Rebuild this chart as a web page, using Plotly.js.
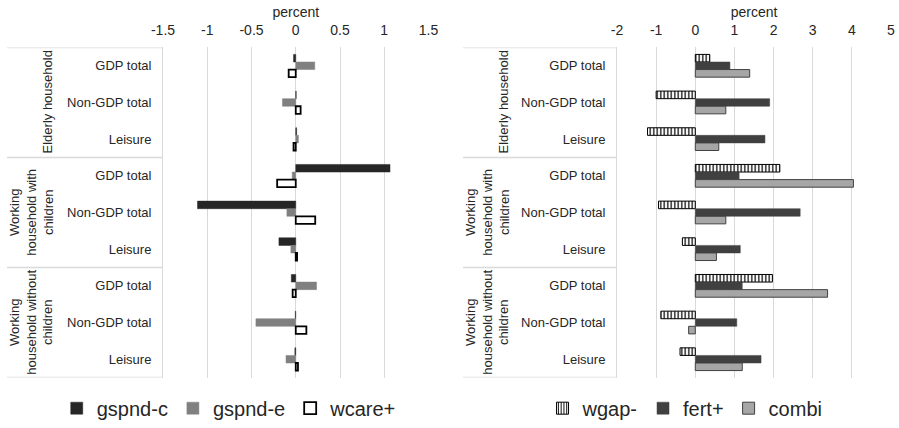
<!DOCTYPE html>
<html>
<head>
<meta charset="utf-8">
<script src="https://cdn.plot.ly/plotly-3.0.1.min.js"></script>
<style>html,body{margin:0;padding:0;background:#fff}#chart{width:899px;height:428px}</style>
</head>
<body>
<div id="chart"></div>
<script>
// ---- data ----
const groups = ['Elderly household', 'Working<br>household with<br>children', 'Working<br>household without<br>children'];
const subcats = ['GDP total', 'Non-GDP total', 'Leisure'];

// left panel (percent)
const gspnd_c = [-0.025, 0.005, 0.01, 1.065, -1.11, -0.19, -0.05, -0.005, -0.01];
const gspnd_e = [0.215, -0.15, 0.03, -0.04, -0.10, -0.055, 0.235, -0.45, -0.11];
const wcare   = [-0.08, 0.055, -0.025, -0.21, 0.22, 0.015, -0.035, 0.12, 0.025];

// right panel (percent)
const wgap  = [0.37, -1.0, -1.22, 2.16, -0.94, -0.33, 1.97, -0.88, -0.39];
const fert  = [0.885, 1.9, 1.78, 1.12, 2.68, 1.15, 1.2, 1.06, 1.68];
const combi = [1.39, 0.78, 0.6, 4.04, 0.78, 0.54, 3.38, -0.17, 1.2];

const leftTicks = [-1.5, -1, -0.5, 0, 0.5, 1, 1.5];
const rightTicks = [-2, -1, 0, 1, 2, 3, 4, 5];

// ---- build ----
const catLabels = [];
groups.forEach(() => subcats.forEach(s => catLabels.push(s)));
const yIdx = catLabels.map((_, i) => i);

const W = 899, H = 428;
const px = v => v / W;
const py = v => 1 - v / H;

const textCol = '#262626';
const gridCol = '#d9d9d9';

const traces = [
  {type:'bar', orientation:'h', name:'gspnd-c', x:gspnd_c, y:yIdx, xaxis:'x', yaxis:'y', legend:'legend',
   marker:{color:'#262626', line:{color:'#262626', width:0.5}}},
  {type:'bar', orientation:'h', name:'gspnd-e', x:gspnd_e, y:yIdx, xaxis:'x', yaxis:'y', legend:'legend',
   marker:{color:'#808080', line:{color:'#808080', width:0.5}}},
  {type:'bar', orientation:'h', name:'wcare+', x:wcare, y:yIdx, xaxis:'x', yaxis:'y', legend:'legend',
   marker:{color:'#ffffff', line:{color:'#000000', width:1.8}}},
  {type:'bar', orientation:'h', name:'wgap-', x:wgap, y:yIdx, xaxis:'x2', yaxis:'y2', legend:'legend2',
   marker:{color:'#ffffff', line:{color:'#000000', width:1},
           pattern:{shape:'|', fgcolor:'#000000', bgcolor:'#ffffff', size:3.5, solidity:0.35}}},
  {type:'bar', orientation:'h', name:'fert+', x:fert, y:yIdx, xaxis:'x2', yaxis:'y2', legend:'legend2',
   marker:{color:'#404040', line:{color:'#404040', width:0.5}}},
  {type:'bar', orientation:'h', name:'combi', x:combi, y:yIdx, xaxis:'x2', yaxis:'y2', legend:'legend2',
   marker:{color:'#a6a6a6', line:{color:'#404040', width:1}}}
];

const yRange = [catLabels.length - 0.5, -0.5];
const yDomain = [py(382), py(48)];

function xAxis(dom, ticks, anchor) {
  return {
    domain: dom, anchor: anchor, side: 'top',
    range: [ticks[0], ticks[ticks.length - 1]],
    tickvals: ticks, ticktext: ticks.map(String),
    showgrid: true, gridcolor: gridCol, gridwidth: 1, zeroline: false,
    ticks: 'outside', ticklen: 6, tickcolor: 'rgba(0,0,0,0)',
    tickfont: {size: 14, color: textCol},
    title: {text: 'percent', font: {size: 14, color: textCol}, standoff: 0},
    automargin: false, fixedrange: true
  };
}
function yAxis(anchor) {
  return {
    domain: yDomain, anchor: anchor, range: yRange,
    tickvals: yIdx, ticktext: catLabels,
    showgrid: false, zeroline: false,
    showline: true, linecolor: gridCol, linewidth: 1,
    ticks: 'outside', ticklen: 8, tickcolor: 'rgba(0,0,0,0)',
    tickfont: {size: 13, color: textCol},
    automargin: false, fixedrange: true
  };
}

// label boxes and group labels
const shapes = [];
const annotations = [];
const panels = [{left: 7, right: 163, yref: 'y', labRight: 52}, {left: 463, right: 617, yref: 'y2', labRight: 508}];
panels.forEach(p => {
  for (let g = 0; g <= groups.length; g++) {
    const yb = g * subcats.length - 0.5;
    shapes.push({type:'line', xref:'paper', yref:p.yref, x0:px(p.left), x1:px(p.right), y0:yb, y1:yb,
                 line:{color:gridCol, width:1.5}});
  }
  groups.forEach((g, i) => {
    const nLines = g.split('<br>').length;
    const xc = p.labRight - (nLines * 15.8 - 5.8) / 2;
    annotations.push({xref:'paper', yref:p.yref, x:px(xc), y:i * subcats.length + (subcats.length - 1) / 2,
      text:g, textangle:-90, showarrow:false, xanchor:'center', yanchor:'middle', align:'center',
      font:{size:13, color:textCol}});
  });
});

const layout = {
  width: W, height: H,
  margin: {l:0, r:0, t:0, b:0},
  paper_bgcolor: '#ffffff', plot_bgcolor: '#ffffff',
  font: {family: 'Liberation Sans, Arial, sans-serif', color: textCol},
  barmode: 'group', bargap: 0.38, bargroupgap: 0,
  xaxis: xAxis([px(163), px(428.5)], leftTicks, 'y'),
  yaxis: yAxis('x'),
  xaxis2: xAxis([px(617), px(891)], rightTicks, 'y2'),
  yaxis2: yAxis('x2'),
  shapes: shapes,
  annotations: annotations,
  showlegend: true,
  legend: {orientation:'h', x:0.255, xanchor:'center', y:py(413), yanchor:'middle',
           font:{size:20, color:textCol}, bgcolor:'rgba(0,0,0,0)', traceorder:'normal'},
  legend2: {orientation:'h', x:0.762, xanchor:'center', y:py(413), yanchor:'middle',
           font:{size:20, color:textCol}, bgcolor:'rgba(0,0,0,0)', traceorder:'normal'}
};

Plotly.newPlot('chart', traces, layout, {displayModeBar:false, staticPlot:true});
</script>
</body>
</html>
